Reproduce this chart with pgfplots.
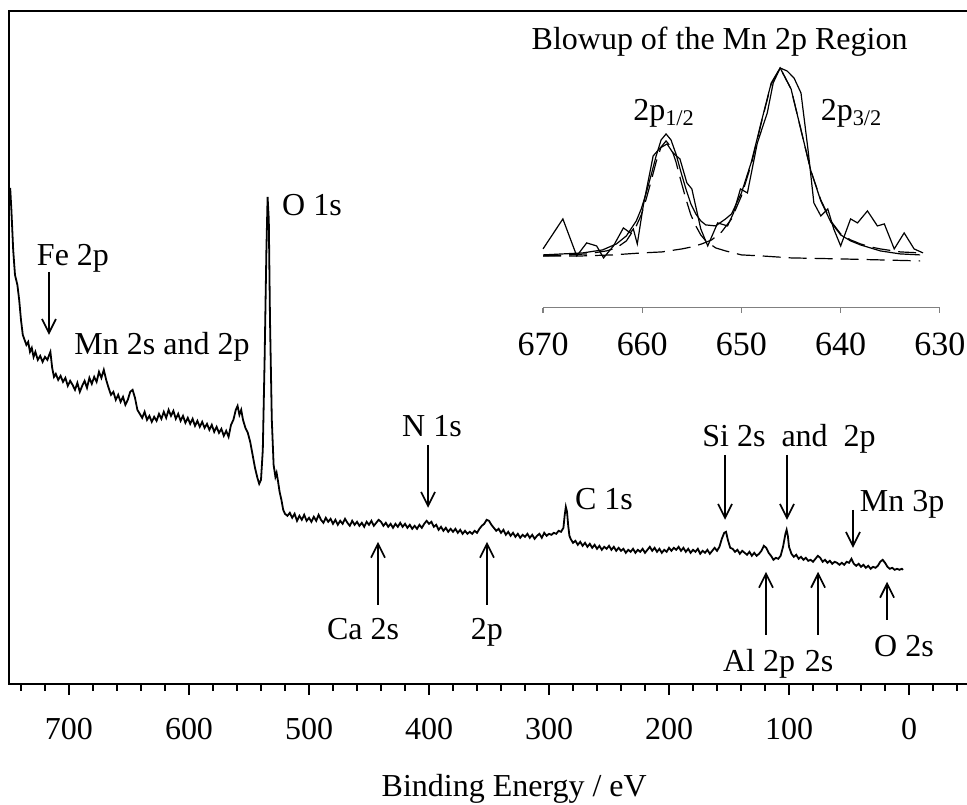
\documentclass[border=0pt]{standalone}
\usepackage{fontspec}
\setmainfont{Liberation Serif}
\usepackage{pgfplots}
\pgfplotsset{compat=1.18}
\usetikzlibrary{arrows.meta}

\begin{document}
\begin{tikzpicture}[font=\fontsize{16}{19}\selectfont,
  every node/.append style={text height=0.68em, text depth=0.2em},
  arr/.style={-{Straight Barb[length=7pt,width=7pt]}, line width=0.85pt}]
\begin{axis}[
  width=479pt, height=336.5pt, scale only axis,
  x dir=reverse, xmin=-48, xmax=750, ymin=0, ymax=673,
  axis line style={draw=none},
  ytick=\empty,
  xtick={0,100,...,700},
  minor xtick={-40,-20,...,740},
  tick align=outside, xtick pos=left,
  major tick length=5.5pt, minor tick length=3.5pt,
  every tick/.style={black, line width=0.8pt},
  /pgf/number format/assume math mode=true,
  xticklabel style={yshift=-12pt},
  clip=false,
]
% survey spectrum, y = height above the bottom of the frame
\addplot[black, line width=0.9pt, mark=none] table {
x y
749 496
748 474
746.5 434
745 409
743 399
741.5 384
740 364
738.5 349
737 344
735.5 339
734 342
732.5 332
731 336
729.5 327
728 332
726 324
724 328
722 322
720 327
718 324
716.5 329
715.5 332
714 316
712.5 307
711 310
709 304
707 308
705 302
703 306
701 298
699 303
697 299
695 294
693 301
691 292
689 298
687 303
685 296
683 306
681 300
679 307
677 302
675 312
673 306
671 314
669 304
667 296
665 289
663 292
661 284
659 289
657 282
655 287
653 279
651 284
649 292
647 294
645 286
643 274
641 270
639 266
637 272
635 264
633 268
631 262
629 267
627 263
625 270
623 265
621 272
619 266
617 274
615 268
613 273
611 265
609 270
607 263
605 268
603 261
601 266
599 260
597 265
595 258
593 263
591 257
589 262
587 256
585 260
583 254
581 259
579 252
577 257
575 251
573 255
571 248
569 253
567 247
565 259
563 264
561 274
559.5 278
558 269
556.5 274
555 264
553 256
551 251
549 242
547 229
545 216
543 206
541.5 200
540 204
538.5 234
537 324
535.5 434
534.5 487
533.5 464
532.5 364
531 264
529.5 219
528 207
527 211
526 204
524.5 192
523 184
521.5 174
520 170
518 168
516 171
514 166
512 170
510 163
508 168
506 164
504 169
502 163
500 166
498 162
496 167
494 163
492 169
490 164
488 161
486 166
484 162
482 165
480 160
478 164
476 159
474 163
472 160
470 165
468 161
466 158
464 163
462 159
460 162
458 158
456 161
454 157
452 162
450 159
448 163
446 158
444 161
442 164
440 162
438 158
436 161
434 157
432 160
430 156
428 160
426 157
424 161
422 157
420 160
418 156
416 159
414 155
412 158
410 155
408 159
406 156
404 160
402 163
400 160
398 162
396 157
394 159
392 154
390 157
388 153
386 156
384 152
382 155
380 152
378 155
376 151
374 154
372 150
370 153
368 150
366 152
364 150
362 153
360 151
358 155
356 158
354 160
352 164
350 163
348 159
346 156
344 153
342 155
340 151
338 154
336 149
334 152
332 148
330 151
328 147
326 150
324 146
322 149
320 147
318 150
316 146
314 149
312 145
310 148
308 150
306 146
304 151
302 148
300 150
298 149
296 151
294 150
292 153
290 152
288 156
287 168
286 177
285 172
284 158
283 148
282 145
280 141
278 143
276 139
274 142
272 138
270 141
268 137
266 140
264 136
262 139
260 135
258 138
256 134
254 137
252 135
250 138
248 134
246 137
244 133
242 136
240 133
238 135
236 131
234 134
232 132
230 135
228 131
226 134
224 132
222 135
220 131
218 134
216 137
214 133
212 136
210 132
208 135
206 131
204 134
202 132
200 136
198 133
196 136
194 134
192 137
190 133
188 136
186 132
184 135
182 131
180 134
178 132
176 135
174 130
172 133
170 131
168 134
166 130
164 133
162 136
160 133
158 137
156 145
154 151
152.5 152
151 144
149 136
147 135
145 132
143 134
141 130
139 133
137 131
135 129
133 132
131 128
129 131
127 128
125 130
123 133
121 138
119 136
117 131
115 128
113 124
111 126
109 125
107 128
105 137
103 150
102 154
101 148
100 137
98 130
96 127
94 129
92 125
90 127
88 124
86 126
84 123
82 124
80 122
78 125
76 128
74 126
72 122
70 124
68 121
66 123
64 120
62 122
60 121
58 119
56 121
54 119
52 122
50 121
48 125
46 120
44 118
42 120
40 117
38 119
36 116
34 118
32 115
30 117
28 116
26 118
24 122
22 124
20 121
18 117
16 115
14 116
12 114
10 115
8 114
6 115
5 114
};
% frame: top, left and bottom
\draw[line width=1pt] (axis cs:-48,673) -- (axis cs:750,673) -- (axis cs:750,0) -- (axis cs:-48,0);

% peak labels
\node at (axis cs:696.7,423) {Fe 2p};
\draw[arr] (axis cs:716.7,412) -- (axis cs:716.7,349);
\node at (axis cs:622.5,334) {Mn 2s and 2p};
\node at (axis cs:497.5,473) {O 1s};
\node at (axis cs:397.5,252) {N 1s};
\draw[arr] (axis cs:400.8,239) -- (axis cs:400.8,176);
\node at (axis cs:254.2,179) {C 1s};
\draw[arr] (axis cs:442.5,79) -- (axis cs:442.5,142);
\node at (axis cs:455,49) {Ca 2s};
\draw[arr] (axis cs:351.7,79) -- (axis cs:351.7,142);
\node at (axis cs:351.7,49) {2p};
\node at (axis cs:100,242) {Si 2s\ \ and\ \ 2p};
\draw[arr] (axis cs:153.3,229) -- (axis cs:153.3,164);
\draw[arr] (axis cs:101.7,229) -- (axis cs:101.7,164);
\node at (axis cs:5.8,177) {Mn 3p};
\draw[arr] (axis cs:46.7,174) -- (axis cs:46.7,136);
\draw[arr] (axis cs:119.2,49) -- (axis cs:119.2,112);
\node at (axis cs:125,17) {Al 2p};
\draw[arr] (axis cs:75.8,49) -- (axis cs:75.8,112);
\node at (axis cs:75,17) {2s};
\draw[arr] (axis cs:18.3,64) -- (axis cs:18.3,102);
\node at (axis cs:4.2,32) {O 2s};

\node at (axis cs:329,-108) {Binding Energy / eV};

\coordinate (ins) at (axis cs:305,376);
\coordinate (bbsw) at (axis cs:757.5,-121);
\coordinate (bbne) at (axis cs:-48.3,684);
\end{axis}

% inset: blowup of the Mn 2p region
\begin{axis}[
  at={(ins)}, anchor=south west,
  width=198.5pt, height=123.5pt, scale only axis,
  x dir=reverse, xmin=630, xmax=670, ymin=0, ymax=247,
  axis x line*=bottom, axis y line=none,
  axis line style={gray, line width=0.6pt},
  ytick=\empty,
  xtick={630,640,...,670},
  tick align=outside, major tick length=2.5pt,
  every tick/.style={gray, line width=0.6pt},
  /pgf/number format/assume math mode=true,
  /pgf/number format/1000 sep={},
  xticklabel style={yshift=-11pt, font=\fontsize{17}{20}\selectfont},
  clip=false,
]
% measured
\addplot[black, line width=0.6pt, mark=none] table {
x y
670 59
669.0 74
668.0 89
666.6 52
665.6 65
664.6 62
663.9 50
662.9 62
661.9 80
661.2 75
660.9 79
660.5 64
659.9 102
658.9 152
658.2 160
657.5 164
656.9 155
656.2 149
655.5 125
655.0 119
654.1 79
653.4 62
652.4 85
651.4 82
650.8 95
650.1 119
649.4 115
648.4 165
647.4 195
646.8 225
646.1 240
645.4 237
644.7 230
644.0 215
643.3 159
642.7 105
642.0 92
641.3 99
640.7 79
640.0 62
639.0 89
638.3 85
637.3 97
636.3 82
635.6 84
634.6 59
633.6 75
632.6 59
631.7 55
};
% fit envelope
\addplot[black, line width=0.6pt, mark=none] table {
x y
670 53
666 55
664 58
662.6 64
661.6 72
660.6 87
660.1 99
659.6 115
659.1 133
658.6 152
658.1 168
657.6 174
657.1 168
656.6 154
656.1 136
655.6 119
655.1 104
654.6 94
654.1 87
653.6 83
652.6 82
651.6 89
651 94
650 115
649 146
648 186
647 225
646.1 240
645 219
644 178
643 137
642 107
641 86
640 73
639 67
638 63
637 60
636 57
634 54
632 53
};
% 2p1/2 component
\addplot[black, line width=0.6pt, dash pattern=on 9pt off 4pt, mark=none] table {
x y
670 52
667.6 53
665.6 54
663.6 57
662.6 60
661.6 67
660.6 82
660.1 93
659.6 109
659.1 127
658.6 146
658.1 161
657.6 167
657.1 161
656.6 146
656.1 127
655.6 109
655.1 93
654.6 82
654.1 73
653.6 67
652.6 60
651.6 57
650 53
648 52
645 50
640 49
636 48
632 47
};
% 2p3/2 component
\addplot[black, line width=0.6pt, dash pattern=on 9pt off 4pt, mark=none] table {
x y
670 52
666 52
663 53
660 55
658 56
656 59
655 61
654 64
653 68
652 76
651 89
650 112
649 144
648 185
647 224
646.1 240
645 219
644 178
643 137
642 108
641 87
640 74
639 68
638 64
637 61
636 59
634 56
632 55
};
\node at (axis cs:652.2,263) {Blowup of the Mn 2p Region};
\node at (axis cs:657.8,192) {2p\textsubscript{1/2}};
\node at (axis cs:638.9,192) {2p\textsubscript{3/2}};
\end{axis}
\pgfresetboundingbox
\path (bbsw) rectangle (bbne);
\end{tikzpicture}
\end{document}
